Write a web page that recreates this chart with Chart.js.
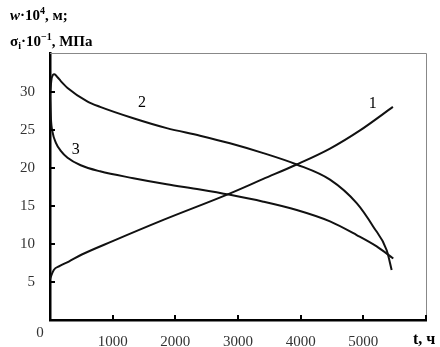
<!DOCTYPE html>
<html>
<head>
<meta charset="utf-8">
<script src="https://cdn.jsdelivr.net/npm/chart.js@4.4.1/dist/chart.umd.min.js"></script>
<style>
  html, body { margin: 0; padding: 0; background: #fff; }
  #wrap { width: 440px; height: 347px; }
</style>
</head>
<body>
<div id="wrap"><canvas id="chart" width="440" height="347"></canvas></div>
<script>
// curve 1: w*10^4, m
var t1 = [0, 60, 150, 300, 500, 1000, 1809, 2846, 3404, 3937, 4468, 4947, 5472];
var w1 = [5.4, 6.6, 7.1, 7.7, 8.6, 10.4, 13.2, 16.6, 18.6, 20.5, 22.6, 25.0, 28.1];

// curve 2: sigma_i*10^-1, MPa
var t2 = [0, 20, 45, 70, 120, 172, 280, 600, 800, 1330, 1862, 2394, 2872, 3404, 3937, 4468, 4894, 5159, 5373, 5452];
var s2 = [29.5, 31.5, 32.3, 32.4, 32.0, 31.5, 30.6, 28.8, 28.1, 26.6, 25.3, 24.3, 23.3, 22.0, 20.5, 18.5, 15.4, 12.3, 9.2, 6.6];

// curve 3
var t3 = [0, 15, 40, 92, 172, 280, 490, 798, 1330, 1862, 2394, 2872, 3404, 3937, 4468, 4894, 5213, 5478];
var s3 = [30, 26.5, 24.8, 23.4, 22.3, 21.4, 20.4, 19.6, 18.7, 17.9, 17.2, 16.5, 15.6, 14.5, 13.0, 11.2, 9.7, 8.1];

var curveNames = ['1', '2', '3'];
var yTickLabels = [5, 10, 15, 20, 25, 30];
var xTickLabels = [1000, 2000, 3000, 4000, 5000];

function pts(ts, vs) {
  return ts.map(function(t, i) { return { x: t, y: vs[i] }; });
}

var serif = '"Liberation Serif", "Times New Roman", serif';

var decor = {
  id: 'decor',
  afterDraw: function(chart) {
    var ctx = chart.ctx;
    var a = chart.chartArea;
    var xs = chart.scales.x, ys = chart.scales.y;
    ctx.save();

    // thin frame top / right
    ctx.strokeStyle = '#888';
    ctx.lineWidth = 1;
    ctx.beginPath();
    ctx.moveTo(a.left, a.top + 0.5);
    ctx.lineTo(a.right + 0.5, a.top + 0.5);
    ctx.lineTo(a.right + 0.5, a.bottom);
    ctx.stroke();

    // inward tick marks
    ctx.strokeStyle = '#000';
    ctx.lineWidth = 2;
    ctx.beginPath();
    [1000, 2000, 3000, 4000, 5000, 6000].forEach(function(v) {
      var px = Math.round(xs.getPixelForValue(v));
      ctx.moveTo(px, a.bottom);
      ctx.lineTo(px, a.bottom - 5);
    });
    yTickLabels.forEach(function(v) {
      var py = Math.round(ys.getPixelForValue(v));
      ctx.moveTo(a.left, py);
      ctx.lineTo(a.left + 5, py);
    });
    ctx.stroke();

    // origin label
    ctx.fillStyle = '#333';
    ctx.font = '15px ' + serif;
    ctx.textAlign = 'center';
    ctx.textBaseline = 'middle';
    ctx.fillText('0', 40, 333);

    // curve numbers
    ctx.fillStyle = '#000';
    ctx.font = '16px ' + serif;
    ctx.fillText(curveNames[0], xs.getPixelForValue(5150), ys.getPixelForValue(28.5));
    ctx.fillText(curveNames[1], xs.getPixelForValue(1470), ys.getPixelForValue(28.6));
    ctx.fillText(curveNames[2], xs.getPixelForValue(410), ys.getPixelForValue(22.5));

    // x axis title
    ctx.textAlign = 'left';
    ctx.textBaseline = 'alphabetic';
    ctx.font = 'bold 16px ' + serif;
    ctx.fillText('t, ч', 413, 344);

    // y axis title, two lines
    function run(parts, x, y) {
      parts.forEach(function(p) {
        ctx.font = p[1];
        ctx.fillText(p[0], x, y + (p[2] || 0));
        x += ctx.measureText(p[0]).width;
      });
    }
    var b = 'bold 15px ' + serif;
    var bs = 'bold 10px ' + serif;
    run([['w', 'bold italic 15px ' + serif], ['·10', b], ['4', bs, -6], [', м;', b]], 10, 20);
    run([['σ', b], ['i', bs, 3], ['·10', b], ['−1', bs, -6], [', МПа', b]], 10, 46);

    ctx.restore();
  }
};

var lineStyle = {
  borderColor: '#111',
  borderWidth: 2,
  pointRadius: 0,
  fill: false,
  cubicInterpolationMode: 'monotone'
};

new Chart(document.getElementById('chart'), {
  type: 'line',
  data: {
    datasets: [
      Object.assign({ label: curveNames[0], data: pts(t1, w1) }, lineStyle),
      Object.assign({ label: curveNames[1], data: pts(t2, s2) }, lineStyle),
      Object.assign({ label: curveNames[2], data: pts(t3, s3) }, lineStyle)
    ]
  },
  options: {
    responsive: false,
    animation: false,
    devicePixelRatio: 1,
    layout: { padding: { top: 53, right: 14, left: 0, bottom: 0 } },
    plugins: { legend: { display: false }, tooltip: { enabled: false } },
    scales: {
      x: {
        type: 'linear',
        min: 0,
        max: 6000,
        afterFit: function(s) { s.height = 27; },
        afterBuildTicks: function(s) {
          s.ticks = xTickLabels.map(function(v) { return { value: v }; });
        },
        grid: { display: false, drawTicks: false },
        border: { display: true, color: '#000', width: 2.5 },
        ticks: {
          color: '#333',
          padding: 13,
          maxRotation: 0,
          autoSkip: false,
          font: { family: serif, size: 15 },
          callback: function(v) { return String(v); }
        }
      },
      y: {
        min: 0,
        max: 35.2,
        afterFit: function(s) { s.width = 50; },
        afterBuildTicks: function(s) {
          s.ticks = yTickLabels.map(function(v) { return { value: v }; });
        },
        grid: { display: false, drawTicks: false },
        border: { display: true, color: '#000', width: 2.5 },
        ticks: {
          color: '#333',
          padding: 15,
          font: { family: serif, size: 15 }
        }
      }
    }
  },
  plugins: [decor]
});
</script>
</body>
</html>
